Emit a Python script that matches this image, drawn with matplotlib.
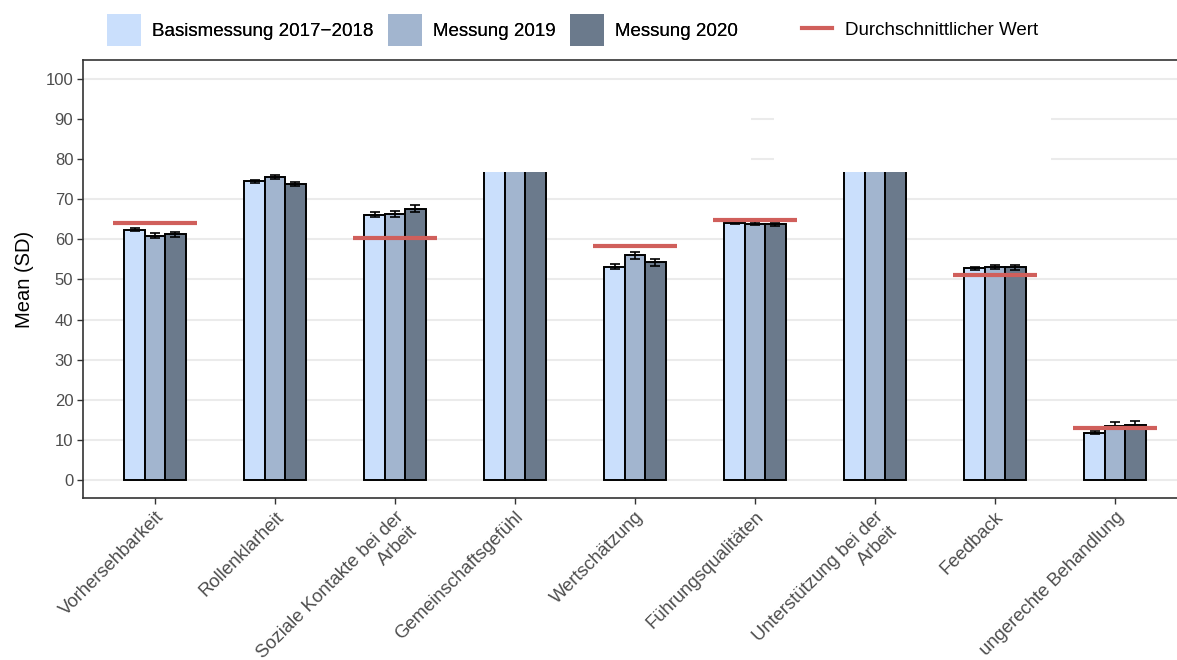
import numpy as np
import matplotlib
matplotlib.use("Agg")
import matplotlib.pyplot as plt
from matplotlib.patches import Patch, Rectangle
from matplotlib.lines import Line2D

plt.rcParams['font.family'] = ['Liberation Sans', 'DejaVu Sans']

# Daten
kategorien = ['Vorhersehbarkeit', 'Rollenklarheit', 'Soziale Kontakte bei der\nArbeit',
              'Gemeinschaftsgefühl', 'Wertschätzung', 'Führungsqualitäten',
              'Unterstützung bei der\nArbeit', 'Feedback', 'ungerechte Behandlung']
serien = ['Basismessung 2017\u22122018', 'Messung 2019', 'Messung 2020']
basis = [62.4, 74.5, 66.1, 85.0, 53.2, 64.1, 85.0, 52.8, 11.8]
m2019 = [60.9, 75.5, 66.3, 84.0, 56.0, 63.9, 84.0, 53.2, 13.5]
m2020 = [61.2, 73.8, 67.6, 83.0, 54.3, 63.7, 83.0, 53.0, 13.7]
sd_basis = [0.4, 0.4, 0.6, 0.5, 0.7, 0.3, 0.5, 0.4, 0.4]
sd_2019 = [0.6, 0.5, 0.7, 0.5, 0.9, 0.3, 0.5, 0.5, 0.9]
sd_2020 = [0.7, 0.5, 0.9, 0.5, 0.9, 0.3, 0.5, 0.6, 0.9]
durchschnitt = [64.0, np.nan, 60.2, np.nan, 58.3, 64.9, np.nan, 51.0, 13.0]
farben = ['#CADFFC', '#A2B5CF', '#6B7A8C']
rot = '#D05F5B'

fig = plt.figure(figsize=(11.77, 6.6), dpi=100)
ax = fig.add_axes([83/1177, 162/660, 1104/1177, 438/660])

x = np.arange(1, len(kategorien) + 1)
breite = 0.17
werte = [basis, m2019, m2020]
fehler = [sd_basis, sd_2019, sd_2020]
for i in range(3):
    pos = x + (i - 1) * breite
    ax.bar(pos, werte[i], width=breite, color=farben[i], edgecolor='black',
           linewidth=1.4, zorder=2)
    ax.errorbar(pos, werte[i], yerr=fehler[i], fmt='none', ecolor='black',
                elinewidth=1.2, capsize=3.5, capthick=1.2, zorder=3)

# Durchschnittlicher Wert
ax.hlines(durchschnitt, x - 0.35, x + 0.35, color=rot, linewidth=3.0, zorder=4)

# weisse Flaechen wie im Original
for x0, x1 in [(0.41, 5.97), (6.16, 8.47)]:
    ax.add_patch(Rectangle((x0, 76.8), x1 - x0, 15.0, facecolor='white',
                           edgecolor='none', zorder=5))

ax.set_xlim(0.4, 9.6)
ax.set_ylim(-4.5, 104.7)
ax.set_yticks(np.arange(0, 101, 10))
ax.set_xticks(x)
ax.set_xticklabels(kategorien, rotation=45, ha='right', va='top',
                   rotation_mode='anchor', fontsize=13.3, color='#4D4D4D')
ax.tick_params(axis='y', labelsize=12, labelcolor='#4D4D4D', pad=3)
ax.tick_params(axis='both', color='#333333', length=4, width=1)
ax.set_ylabel('Mean (SD)', fontsize=14.5, labelpad=8)
ax.grid(axis='y', color='#EBEBEB', linewidth=1.5, zorder=0)
ax.set_axisbelow(True)
for s in ax.spines.values():
    s.set_color('#333333')
    s.set_linewidth(1.2)
    s.set_zorder(6)

# Legende oben
handles = [Patch(facecolor=f, edgecolor='none') for f in farben]
leg1 = fig.legend(handles, serien, loc='center left', bbox_to_anchor=(107/1177, 0.9545),
                  ncol=3, frameon=False, fontsize=13.5, handlelength=1.8, handleheight=2.3,
                  handletextpad=0.62, columnspacing=0.75, borderpad=0, borderaxespad=0)
fig.add_artist(leg1)
fig.legend([Line2D([0], [0], color=rot, linewidth=3.0)], ['Durchschnittlicher Wert'],
           loc='center left', bbox_to_anchor=(802/1177, 0.9545), frameon=False,
           fontsize=13.5, handlelength=1.6, handletextpad=0.7, borderpad=0, borderaxespad=0)

fig.savefig('out.png', dpi=100)
